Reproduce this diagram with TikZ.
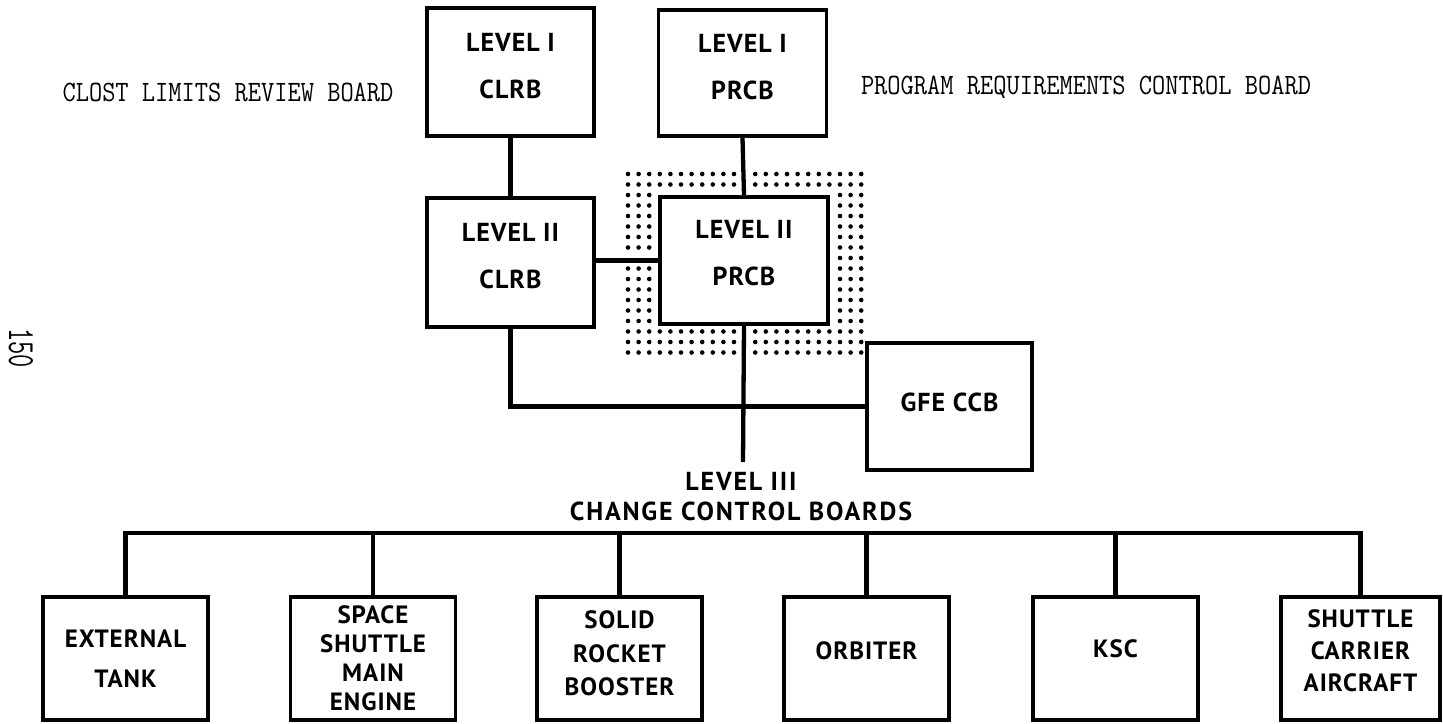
\documentclass[tikz,border=0pt]{standalone}
\usepackage{fontspec}
\newfontfamily\boxfont[LetterSpace=4]{PT Sans}
\newfontfamily\widefont[LetterSpace=7]{PT Sans}
\newfontfamily\twfont{Latin Modern Mono}
\usetikzlibrary{calc}
\begin{document}
\begin{tikzpicture}[x=1pt,y=-1pt,
  conn/.style={line width=4.3pt, line join=miter},
  halo/.style={line width=11pt, white},
  board/.style={draw, line width=3.8pt, line join=miter, inner sep=0pt, align=center,
    font=\boxfont\bfseries\fontsize{26}{47}\selectfont},
  ccb/.style={board, minimum width=165pt, minimum height=123pt},
  tw/.style={font=\twfont\fontsize{25.7}{28}\selectfont, inner sep=0pt},
  dotmark/.style={fill=black}
]
\useasboundingbox (0,0) rectangle (1443,723);

% dotted halo around Level II PRCB
\foreach \i in {0,...,22}{
  \foreach \j in {0,...,17}{
    \fill[dotmark] (628+10.6*\i, 174+10.5*\j) circle (2.3);
  }
}
\fill[white] (653,190) rectangle (834,328);

% boards
\node[board, minimum width=167pt, minimum height=128pt, text depth=12pt] (c1) at (510.5,72) {LEVEL I\\CLRB};
\node[board, minimum width=168pt, minimum height=126pt, text depth=12pt] (p1) at (742.5,73) {LEVEL I\\PRCB};
\node[board, minimum width=167pt, minimum height=129pt, text depth=14pt] (c2) at (510.5,262.5) {LEVEL II\\CLRB};
\node[board, minimum width=168pt, minimum height=127pt, text depth=16pt, fill=white] (p2) at (744,260.5) {LEVEL II\\PRCB};
\node[board, line width=3.2pt, minimum width=165pt, minimum height=127pt, text depth=8pt] (gfe) at (949.5,406.5) {GFE CCB};

% side labels
\node[tw] (clost) at (228,92) {\scalebox{1}[1.15]{CLOST LIMITS REVIEW BOARD}};
\node[tw] (prog) at (1086,87) {\scalebox{1}[1.15]{PROGRAM REQUIREMENTS CONTROL BOARD}};
\node[tw, rotate=-90] (page) at (21,348) {\scalebox{1}[1.5]{150}};

% upper connectors
\draw[conn] (c1.south) -- (c2.north);
\draw[halo] (p1.south) -- (p2.north);
\draw[conn] (p1.south) -- (p2.north);
\draw[halo] (p2.west -| c2.east) -- (p2.west);
\draw[conn] (p2.west -| c2.east) -- (p2.west);
\coordinate (p3end) at (743,462);
\draw[halo] (p2.south) -- ($(p2.south)+(0,30)$);
\draw[conn] (p2.south) -- (p3end);
\draw[conn] (c2.south) |- (gfe.west);

% level III label
\node[font=\widefont\bfseries\fontsize{26}{30}\selectfont, align=center, inner sep=0pt] (l3) at (741,497) {LEVEL III\\CHANGE CONTROL BOARDS};

% level III boards
\node[ccb, font=\boxfont\bfseries\fontsize{25}{40}\selectfont] (et) at (125.5,658.5) {EXTERNAL\\TANK};
\node[ccb, font=\boxfont\bfseries\fontsize{25}{29}\selectfont] (ssme) at (373,658.5) {SPACE\\SHUTTLE\\MAIN\\ENGINE};
\node[ccb, font=\boxfont\bfseries\fontsize{25}{33.5}\selectfont, text depth=10pt] (srb) at (619.5,658.5) {SOLID\\ROCKET\\BOOSTER};
\node[ccb, font=\boxfont\bfseries\fontsize{25}{33}\selectfont, text depth=16pt] (orb) at (866.5,658.5) {ORBITER};
\node[ccb, font=\boxfont\bfseries\fontsize{25}{33}\selectfont, text depth=20pt] (ksc) at (1115.5,658.5) {KSC};
\node[ccb, minimum width=159pt, font=\boxfont\bfseries\fontsize{25}{32}\selectfont, text depth=16pt] (sca) at (1360.5,658.5) {SHUTTLE\\CARRIER\\AIRCRAFT};

\coordinate (bus) at (743,533);
\draw[conn] (et.north) |- (bus) -| (sca.north);
\foreach \b in {ssme,srb,orb,ksc}{
  \draw[conn] (\b.north) -- (\b.north |- bus);
}
\end{tikzpicture}
\end{document}
